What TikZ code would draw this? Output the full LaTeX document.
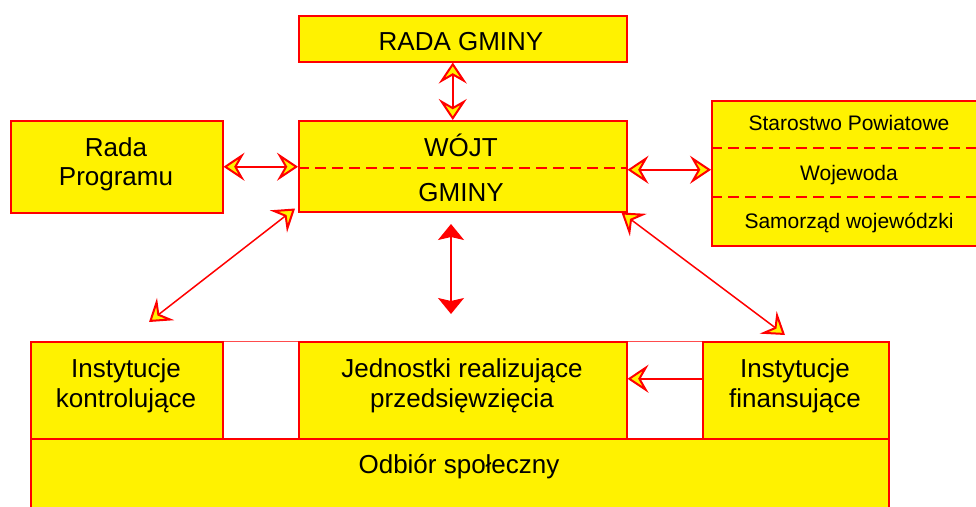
\documentclass[tikz,border=0pt]{standalone}
\usepackage{fontspec}
\setmainfont{Liberation Sans}
\usetikzlibrary{arrows.meta}
\tikzset{
  box/.style={draw=red, fill=yellow, line width=1.5pt, inner sep=0pt, anchor=north west},
  gapbox/.style={draw=red!70, fill=white, line width=1pt, inner sep=0pt, anchor=north west},
  txt/.style={font=\fontsize{26}{30}\selectfont, anchor=base, inner sep=0pt},
  stxt/.style={font=\fontsize{21}{25}\selectfont, anchor=base, inner sep=0pt},
  dashline/.style={draw=red, line width=1.5pt, dash pattern=on 11pt off 6pt},
  link/.style={draw=red, line width=1.5pt},
  bi/.style={link, >={Stealth[length=21pt,width=28pt,inset=8pt,fill=yellow,line width=2pt]}, <->},
  one/.style={link, >={Stealth[length=21pt,width=28pt,inset=8pt,fill=yellow,line width=2pt]}, ->},
  birr/.style={link, >={Stealth[length=16pt,width=26pt,inset=3pt,fill=red]}, <->}
}
\begin{document}
\begin{tikzpicture}[x=1pt,y=-1pt]
\useasboundingbox (0,0) rectangle (976,506);
\clip (0,0) rectangle (976,506);
\fill[white] (0,0) rectangle (976,506);

% boxes
\node[box, minimum width=328pt, minimum height=46pt] (rada) at (298,15) {};
\node[box, minimum width=328pt, minimum height=91pt] (wojt) at (298,120) {};
\node[box, minimum width=212pt, minimum height=92pt] (program) at (10,120) {};
\node[box, minimum width=276pt, minimum height=145pt] (right) at (711,100) {};

\node[gapbox, minimum width=76pt, minimum height=97pt] (gap1) at (222,341) {};
\node[gapbox, minimum width=76pt, minimum height=97pt] (gap2) at (626,341) {};
\node[box, minimum width=858pt, minimum height=90pt] (odbior) at (30,438) {};
\node[box, minimum width=192pt, minimum height=97pt] (kontrol) at (30,341) {};
\node[box, minimum width=328pt, minimum height=97pt] (jedn) at (298,341) {};
\node[box, minimum width=186pt, minimum height=97pt] (finans) at (702,341) {};

% dashed separators
\draw[dashline] ([yshift=-48pt]wojt.north west) -- ([yshift=-48pt]wojt.north east);
\draw[dashline] ([yshift=-48pt]right.north west) -- ([yshift=-48pt]right.north east);
\draw[dashline] ([yshift=-97pt]right.north west) -- ([yshift=-97pt]right.north east);

% texts
\node[txt] (tRada) at (461,50) {RADA GMINY};
\node[txt] (tW1) at (461,156) {WÓJT};
\node[txt] (tW2) at (461,201.5) {GMINY};
\node[txt] (tP1) at (116,156) {Rada};
\node[txt] (tP2) at (116,185) {Programu};
\node[stxt] (tR1) at (849,130) {Starostwo Powiatowe};
\node[stxt] (tR2) at (849,180) {Wojewoda};
\node[stxt] (tR3) at (849,228) {Samorząd wojewódzki};
\node[txt] (tK1) at (126,377) {Instytucje};
\node[txt] (tK2) at (126,407) {kontrolujące};
\node[txt] (tJ1) at (462,377) {Jednostki realizujące};
\node[txt] (tJ2) at (462,407) {przedsięwzięcia};
\node[txt] (tF1) at (795,377) {Instytucje};
\node[txt] (tF2) at (795,407) {finansujące};
\node[txt] (tO) at (459,473) {Odbiór społeczny};

% free ends
\coordinate (dl) at (149,322);
\coordinate (dr) at (785,335);
\coordinate (vtop) at (451,224);
\coordinate (vbot) at (451,314);

% connectors
\draw[bi] ([xshift=-10pt]rada.south) -- ([xshift=-10pt]wojt.north);
\draw[bi] (program.east) -- (program.east -| wojt.west);
\draw[bi] ([yshift=-3.5pt]wojt.east) -- ([yshift=-3.5pt]wojt.east -| right.west);
\draw[bi] (dl) -- ([xshift=-3pt,yshift=4pt]wojt.south west);
\draw[bi] ([xshift=-6pt]wojt.south east) -- (dr);
\draw[birr] (vtop) -- (vbot);
\draw[one] ([yshift=11.5pt]finans.west) -- ([yshift=11.5pt]finans.west -| jedn.east);
\end{tikzpicture}
\end{document}
